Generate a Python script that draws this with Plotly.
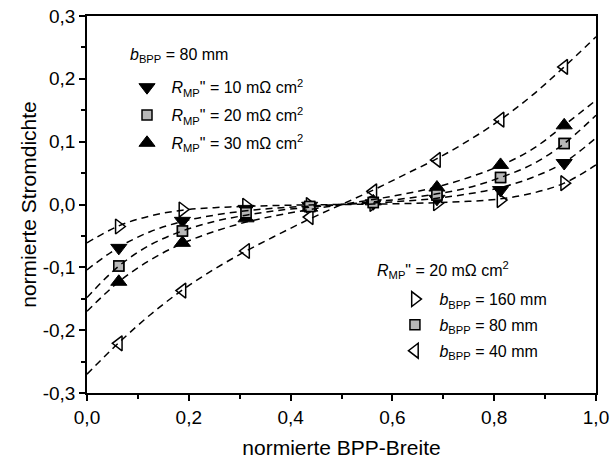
import plotly.graph_objects as go

# ---- data ----
x_pts = [0.0625, 0.1875, 0.3125, 0.4375, 0.5625, 0.6875, 0.8125, 0.9375]
r10 = [-0.069, -0.026, -0.007, -0.002, 0.002, 0.009, 0.023, 0.066]
r20 = [-0.098, -0.042, -0.013, -0.003, 0.003, 0.015, 0.043, 0.097]
r30 = [-0.123, -0.061, -0.022, -0.005, 0.005, 0.027, 0.063, 0.126]
b160 = [-0.035, -0.008, -0.002, -0.001, 0.001, 0.002, 0.007, 0.034]
b40 = [-0.221, -0.137, -0.074, -0.020, 0.021, 0.071, 0.135, 0.219]

x_fit = [0, 0.0625, 0.125, 0.1875, 0.25, 0.3125, 0.375, 0.4375, 0.5,
         0.5625, 0.625, 0.6875, 0.75, 0.8125, 0.875, 0.9375, 1.0]
f160 = [-0.061, -0.034, -0.018, -0.009, -0.005, -0.003, -0.0015, -0.0006, 0,
        0.0006, 0.0015, 0.003, 0.005, 0.009, 0.018, 0.034, 0.063]
f10 = [-0.104, -0.068, -0.043, -0.027, -0.017, -0.010, -0.0055, -0.0025, 0,
       0.0025, 0.0055, 0.010, 0.017, 0.027, 0.043, 0.067, 0.106]
f20 = [-0.148, -0.098, -0.064, -0.042, -0.027, -0.017, -0.0095, -0.0043, 0,
       0.0043, 0.0095, 0.017, 0.027, 0.043, 0.064, 0.097, 0.142]
f30 = [-0.170, -0.123, -0.088, -0.062, -0.043, -0.028, -0.017, -0.008, 0,
       0.008, 0.017, 0.028, 0.043, 0.062, 0.088, 0.126, 0.166]
f40 = [-0.270, -0.220, -0.175, -0.136, -0.103, -0.074, -0.048, -0.023, 0,
       0.023, 0.048, 0.073, 0.102, 0.135, 0.174, 0.219, 0.267]

x_ticks = [0.0, 0.2, 0.4, 0.6, 0.8, 1.0]
x_ticktext = ["0,0", "0,2", "0,4", "0,6", "0,8", "1,0"]
y_ticks = [-0.3, -0.2, -0.1, 0.0, 0.1, 0.2, 0.3]
y_ticktext = ["-0,3", "-0,2", "-0,1", "0,0", "0,1", "0,2", "0,3"]

legend1_title = "<i>b</i><sub>BPP</sub> = 80 mm"
legend2_title = '<i>R</i><sub>MP</sub>" = 20 mΩ cm<sup>2</sup>'

FONT = "Liberation Sans, Arial, sans-serif"
NB = "\u00a0"
fig = go.Figure()

def add_markers(y, name, legend, rank, symbol, size, color, lw):
    fig.add_trace(go.Scatter(
        x=x_pts, y=y, mode="markers", legend=legend, legendrank=rank,
        legendgroup=name, name=NB + name,
        marker=dict(symbol=symbol, size=size, color=color,
                    line=dict(color="black", width=lw))))

add_markers(r10, '<i>R</i><sub>MP</sub>" = 10 mΩ cm<sup>2</sup>', "legend", 1,
            "triangle-down", 14, "black", 1)
add_markers(r30, '<i>R</i><sub>MP</sub>" = 30 mΩ cm<sup>2</sup>', "legend", 3,
            "triangle-up", 14, "black", 1)
add_markers(r20, '<i>R</i><sub>MP</sub>" = 20 mΩ cm<sup>2</sup>', "legend", 2,
            "square", 10, "#b8b8b8", 1.5)
add_markers(b160, "<i>b</i><sub>BPP</sub> = 160 mm", "legend2", 1,
            "triangle-right-open", 13, "black", 1.5)
add_markers(b40, "<i>b</i><sub>BPP</sub> = 40 mm", "legend2", 3,
            "triangle-left-open", 13, "black", 1.5)
add_markers(r20, "<i>b</i><sub>BPP</sub> = 80 mm", "legend2", 2,
            "square", 10, "#b8b8b8", 1.5)

for f in [f160, f10, f20, f30, f40]:
    fig.add_trace(go.Scatter(x=x_fit, y=f, mode="lines", line_shape="spline",
                             line=dict(color="black", width=1.5, dash="7px,5px"),
                             showlegend=False, hoverinfo="skip"))

axis_common = dict(showline=True, linecolor="black", linewidth=1.5, mirror=True,
                   ticks="outside", ticklen=6, tickwidth=1.5, tickcolor="black",
                   showgrid=False, zeroline=False, automargin=False,
                   tickfont=dict(family=FONT, size=19, color="black"))

fig.update_xaxes(range=[0, 1], tickvals=x_ticks, ticktext=x_ticktext,
                 minor=dict(ticks="outside", ticklen=4, tickwidth=1.5, tickcolor="black",
                            dtick=0.1, tick0=0),
                 title=dict(text="normierte BPP-Breite", font=dict(family=FONT, size=21, color="black"),
                            standoff=14),
                 **axis_common)
fig.update_yaxes(range=[-0.3, 0.3], tickvals=y_ticks, ticktext=y_ticktext,
                 minor=dict(ticks="outside", ticklen=4, tickwidth=1.5, tickcolor="black",
                            dtick=0.05, tick0=0),
                 title=dict(text="normierte Stromdichte", font=dict(family=FONT, size=21, color="black"),
                            standoff=0),
                 **axis_common)

legfont = dict(family=FONT, size=16, color="black")
fig.update_layout(
    width=614, height=464,
    margin=dict(l=87, r=18, t=16, b=71),
    paper_bgcolor="white", plot_bgcolor="white",
    font=dict(family=FONT, color="black"),
    legend=dict(x=0.0786, y=0.856, xanchor="left", yanchor="top",
                bgcolor="rgba(0,0,0,0)", font=legfont,
                traceorder="grouped", tracegroupgap=4),
    legend2=dict(x=0.605, y=0.294, xanchor="left", yanchor="top",
                 bgcolor="rgba(0,0,0,0)", font=legfont,
                 traceorder="grouped", tracegroupgap=2),
    annotations=[
        dict(text=legend1_title, x=0.0806, y=0.894, xref="paper", yref="paper",
             xanchor="left", yanchor="middle", showarrow=False, font=legfont),
        dict(text=legend2_title, x=0.566, y=0.326, xref="paper", yref="paper",
             xanchor="left", yanchor="middle", showarrow=False, font=legfont),
    ],
)

fig.write_html("out.html")
